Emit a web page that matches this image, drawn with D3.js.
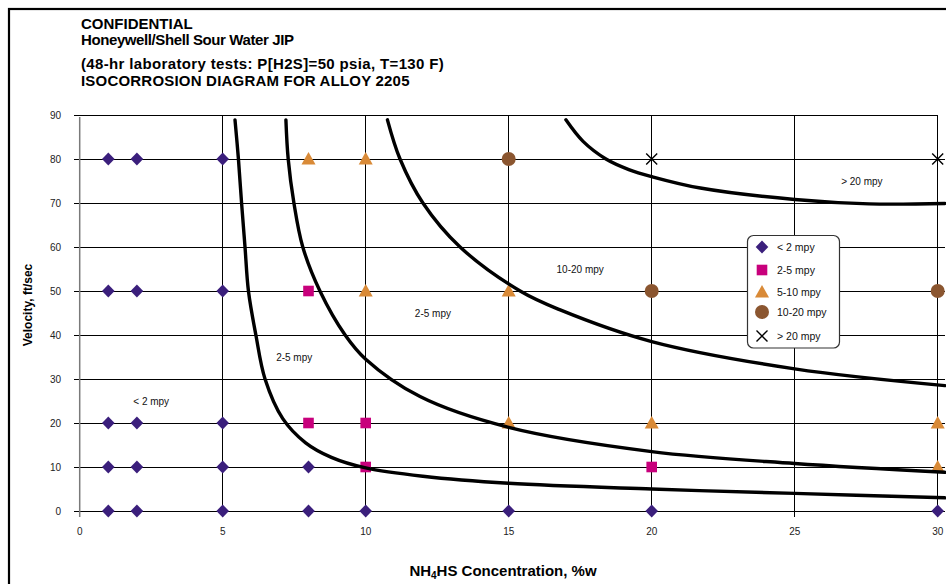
<!DOCTYPE html>
<html>
<head>
<meta charset="utf-8">
<script src="https://cdn.jsdelivr.net/npm/d3@7/dist/d3.min.js"></script>
<style>
  html, body { margin: 0; padding: 0; background: #fff; }
  svg { display: block; }
  text { font-family: "Liberation Sans", Arial, sans-serif; }
</style>
</head>
<body>
<svg id="chart" width="946" height="584"></svg>
<script>
// ---------- data ----------
const titleLines = ["CONFIDENTIAL", "Honeywell/Shell Sour Water JIP"];
const subtitleLines = ["(48-hr laboratory tests: P[H2S]=50 psia, T=130 F)", "ISOCORROSION DIAGRAM FOR ALLOY 2205"];
const xTicks = [0, 5, 10, 15, 20, 25, 30];
const yTicks = [0, 10, 20, 30, 40, 50, 60, 70, 80, 90];
const seriesNames = ["< 2 mpy", "2-5 mpy", "5-10 mpy", "10-20 mpy", "> 20 mpy"];

const lessThan2 = [[1,80],[2,80],[5,80],[1,50],[2,50],[5,50],[1,20],[2,20],[5,20],
  [1,10],[2,10],[5,10],[8,10],[1,0],[2,0],[5,0],[8,0],[10,0],[15,0],[20,0],[30,0]];
const from2to5 = [[8,50],[8,20],[10,20],[10,10],[20,10]];
const from5to10 = [[8,80],[10,80],[10,50],[15,50],[15,20],[20,20],[30,20],[30,10]];
const from10to20 = [[15,80],[20,50],[30,50]];
const moreThan20 = [[20,80],[30,80]];

// iso-corrosion boundary curves
const boundary1 = [[5.43,88.9],[5.55,80],[5.66,70],[5.78,60],[5.9,50],[6.16,40],[6.48,30],[7.1,21],
  [7.9,15.5],[8.8,12.2],[10,9.8],[12,7.9],[15,6.3],[20,5.0],[25,4.0],[30.25,3.0]];
const boundary2 = [[7.21,88.9],[7.29,80],[7.49,70],[7.8,60],[8.4,50],[9.28,40],[10,34.5],[11.9,26],
  [15,19],[20,13.5],[25,10.8],[30.25,8.8]];
const boundary3 = [[10.76,88.9],[11.2,80],[12.0,70],[13.3,60],[15.4,50],[16.8,45.7],[20,38.5],
  [25,32.3],[30.25,28.5]];
const boundary4 = [[17.0,88.9],[17.6,84],[18.4,80],[19.2,77.6],[20,76],[21.7,73.4],[25,70.8],[27.6,69.8],[30.25,69.9]];

const regionLabels = ["< 2 mpy", "2-5 mpy", "2-5 mpy", "10-20 mpy", "> 20 mpy"];
const regionX = [2.5, 7.5, 12.35, 17.5, 27.35];
const regionY = [25, 35, 45, 55, 75];

// ---------- layout ----------
const svg = d3.select("#chart");
const x = d3.scaleLinear().domain([0, 30]).range([79.7, 937.7]);
const y = d3.scaleLinear().domain([0, 90]).range([511, 115]);

// outer frame
svg.append("rect").attr("x", 9).attr("y", 9).attr("width", 1000).attr("height", 1000)
  .attr("fill", "none").attr("stroke", "#000").attr("stroke-width", 2.2);

// titles
const tg = svg.append("g").attr("font-weight", "bold").attr("font-size", 15).attr("fill", "#000");
tg.selectAll("text.t1").data(titleLines).enter().append("text")
  .attr("x", 81).attr("y", (d, i) => 28.5 + i * 16).attr("letter-spacing", (d, i) => i === 1 ? -0.4 : 0).text(d => d);
tg.selectAll("text.t2").data(subtitleLines).enter().append("text")
  .attr("x", 81).attr("y", (d, i) => 69 + i * 17).attr("letter-spacing", (d, i) => i === 0 ? 0.35 : 0.2).text(d => d);

// horizontal gridlines (with ticks to the left)
svg.append("g").selectAll("line").data(yTicks).enter().append("line")
  .attr("x1", x(0) - 6).attr("x2", d => d === 90 ? x(30) : x(30) + 7)
  .attr("y1", d => y(d)).attr("y2", d => y(d))
  .attr("stroke", "#000").attr("stroke-width", 1).attr("shape-rendering", "crispEdges");

// vertical gridlines
svg.append("g").selectAll("line").data(xTicks.filter(d => d > 0)).enter().append("line")
  .attr("x1", d => x(d)).attr("x2", d => x(d))
  .attr("y1", y(90)).attr("y2", y(0) + 6)
  .attr("stroke", "#000").attr("stroke-width", 1).attr("shape-rendering", "crispEdges");

// y axis (gray)
svg.append("line").attr("x1", x(0)).attr("x2", x(0)).attr("y1", y(90) + 2).attr("y2", y(0) + 6)
  .attr("stroke", "#7a7a7a").attr("stroke-width", 1.5);

// tick labels
svg.append("g").selectAll("text").data(yTicks).enter().append("text")
  .attr("x", 61).attr("y", d => y(d) + 3.5).attr("text-anchor", "end")
  .attr("font-size", 10).attr("fill", "#222").text(d => d);
svg.append("g").selectAll("text").data(xTicks).enter().append("text")
  .attr("x", d => x(d)).attr("y", 535).attr("text-anchor", "middle")
  .attr("font-size", 10).attr("fill", "#222").text(d => d);

// axis titles
svg.append("text").attr("transform", "translate(31.5,305) rotate(-90)")
  .attr("text-anchor", "middle").attr("font-weight", "bold").attr("font-size", 12)
  .text("Velocity, ft/sec");
const xt = svg.append("text").attr("x", 503).attr("y", 576).attr("text-anchor", "middle")
  .attr("font-weight", "bold").attr("font-size", 15);
xt.append("tspan").text("NH");
xt.append("tspan").attr("font-size", 10).attr("dy", 3).text("4");
xt.append("tspan").attr("dy", -3).text("HS Concentration, %w");

// region labels
svg.append("g").selectAll("text").data(regionLabels).enter().append("text")
  .attr("x", (d, i) => x(regionX[i])).attr("y", (d, i) => y(regionY[i]) + 3.5)
  .attr("text-anchor", "middle").attr("font-size", 10).attr("fill", "#111").text(d => d);

// ---------- markers ----------
const colors = ["#3b1f7c", "#c8007c", "#d98a37", "#8b5630", "#000"];
function drawMarker(g, kind, cx, cy) {
  if (kind === 0) {
    g.append("path").attr("d", `M${cx},${cy-6.5}L${cx+6.3},${cy}L${cx},${cy+6.5}L${cx-6.3},${cy}Z`).attr("fill", colors[0]);
  } else if (kind === 1) {
    g.append("rect").attr("x", cx - 5.3).attr("y", cy - 5.3).attr("width", 10.6).attr("height", 10.6).attr("fill", colors[1]);
  } else if (kind === 2) {
    g.append("path").attr("d", `M${cx},${cy-7}L${cx+7},${cy+5.5}L${cx-7},${cy+5.5}Z`).attr("fill", colors[2]);
  } else if (kind === 3) {
    g.append("circle").attr("cx", cx).attr("cy", cy).attr("r", 7).attr("fill", colors[3]);
  } else {
    g.append("path").attr("d", `M${cx-5.5},${cy-5.5}L${cx+5.5},${cy+5.5}M${cx+5.5},${cy-5.5}L${cx-5.5},${cy+5.5}`)
      .attr("stroke", "#000").attr("stroke-width", 1.4).attr("fill", "none");
  }
}
const allSeries = [lessThan2, from2to5, from5to10, from10to20, moreThan20];
const mg = svg.append("g");
allSeries.forEach((s, k) => s.forEach(p => drawMarker(mg, k, x(p[0]), y(p[1]))));

// ---------- boundary curves ----------
const line = d3.line().x(d => x(d[0])).y(d => y(d[1])).curve(d3.curveCatmullRom.alpha(0.5));
svg.append("g").selectAll("path").data([boundary1, boundary2, boundary3, boundary4]).enter().append("path")
  .attr("d", line).attr("fill", "none").attr("stroke", "#000").attr("stroke-width", 3.4)
  .attr("stroke-linecap", "round");

// ---------- legend ----------
const lg = svg.append("g");
lg.append("rect").attr("x", 747.5).attr("y", 235.5).attr("width", 92).attr("height", 112.5)
  .attr("rx", 6).attr("fill", "#fff").attr("stroke", "#333").attr("stroke-width", 1.2);
const legendY = [247, 270, 292, 312, 336];
seriesNames.forEach((name, i) => {
  drawMarker(lg, i, 762, legendY[i]);
  lg.append("text").attr("x", 777).attr("y", legendY[i] + 4).attr("font-size", 10.5).attr("fill", "#111").text(name);
});
</script>
</body>
</html>
